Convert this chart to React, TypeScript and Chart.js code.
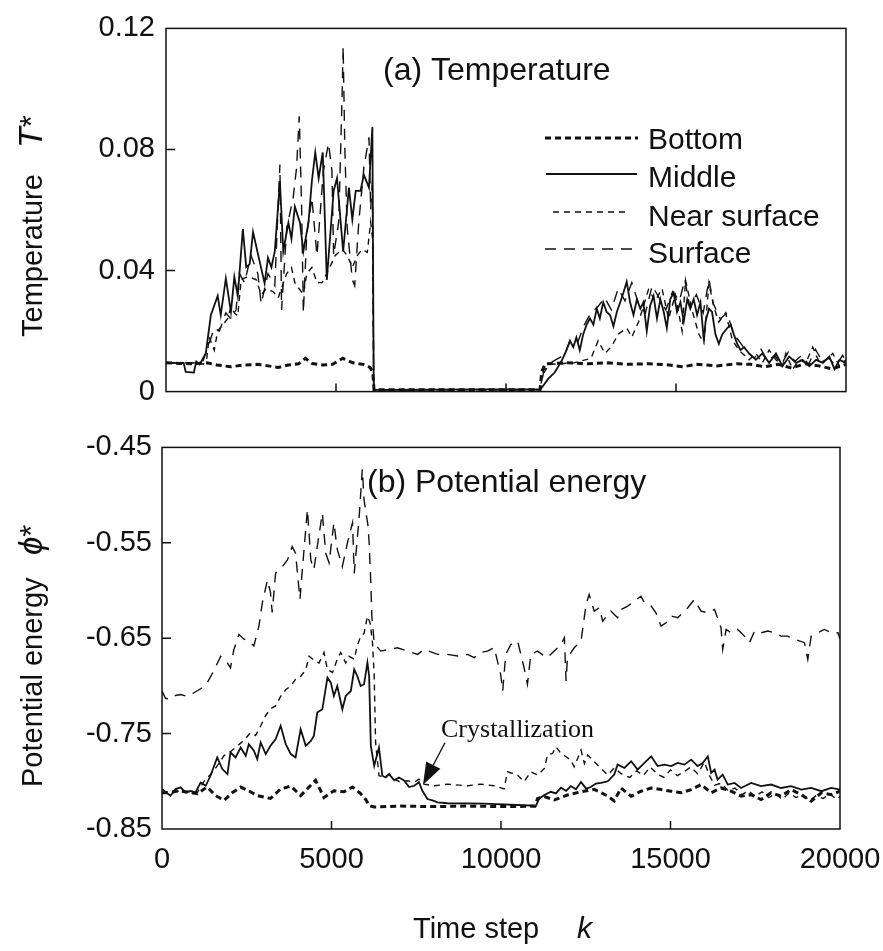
import React, { useEffect, useRef } from "react";
import { Chart, registerables } from "chart.js";

Chart.register(...registerables);

const SANS = "'Liberation Sans', Arial, Helvetica, sans-serif";
const SERIF = "'Liberation Serif', 'Times New Roman', serif";
const INK = "#111111";

// ---------- shared categories / ticks ----------
const seriesLabels = ["Bottom", "Middle", "Near surface", "Surface"];
const timeTicks = [0, 5000, 10000, 15000, 20000];
const tempTicks = [0, 0.04, 0.08, 0.12];
const tempTickLabels = ["0", "0.04", "0.08", "0.12"];
const potTicks = [-0.85, -0.75, -0.65, -0.55, -0.45];
const potTickLabels = ["-0.85", "-0.75", "-0.65", "-0.55", "-0.45"];

// ---------- (a) Temperature T* : [time step k, value] ----------
const tempBottom: [number, number][] = [
  [0, 0.0095], [400, 0.0093], [800, 0.0092], [1200, 0.0095], [1500, 0.0088], [1900, 0.0082],
  [2300, 0.0088], [2700, 0.009], [3000, 0.0085], [3300, 0.008], [3600, 0.0088], [3900, 0.0092],
  [4100, 0.011], [4300, 0.0093], [4600, 0.0088], [4900, 0.009], [5200, 0.011], [5500, 0.0095],
  [5800, 0.009], [6000, 0.008], [6080, 0.0065], [6120, 0.0006], [11000, 0.0006], [11050, 0.0065],
  [11150, 0.0092], [11800, 0.0095], [12400, 0.0092], [13000, 0.0095], [13600, 0.009], [14200, 0.0092],
  [14800, 0.0088], [15200, 0.0082], [15600, 0.009], [16200, 0.0085], [16800, 0.0092], [17200, 0.009],
  [17600, 0.0082], [18000, 0.009], [18400, 0.0078], [18800, 0.0092], [19200, 0.0085], [19600, 0.0075],
  [20000, 0.009],
];

const tempMiddle: [number, number][] = [
  [0, 0.0095], [520, 0.0095], [580, 0.0065], [820, 0.0063], [890, 0.01], [990, 0.009], [1090, 0.011],
  [1170, 0.0126], [1320, 0.0253], [1520, 0.0316], [1610, 0.0253], [1760, 0.0374], [1910, 0.0263],
  [2010, 0.0379], [2110, 0.0316], [2260, 0.0537], [2360, 0.0411], [2460, 0.0421], [2560, 0.0527],
  [2750, 0.0432], [2900, 0.0358], [3000, 0.0442], [3100, 0.0411], [3200, 0.0463], [3350, 0.0695],
  [3450, 0.0463], [3600, 0.0558], [3690, 0.0505], [3790, 0.0611], [3940, 0.0558], [4040, 0.0463],
  [4190, 0.0558], [4290, 0.0695], [4390, 0.079], [4490, 0.0705], [4610, 0.079], [4730, 0.0369],
  [4930, 0.0663], [5030, 0.0705], [5210, 0.0463], [5380, 0.0674], [5480, 0.0569], [5580, 0.0663],
  [5720, 0.0663], [5820, 0.0716], [5970, 0.0674], [6070, 0.0874], [6110, 0.0006], [11020, 0.0008],
  [11240, 0.0042], [11430, 0.0063], [11630, 0.01], [11780, 0.0137], [11880, 0.0168], [11980, 0.0147],
  [12070, 0.0179], [12170, 0.0137], [12270, 0.0189], [12370, 0.0221], [12470, 0.0242], [12570, 0.0221],
  [12670, 0.0274], [12760, 0.0242], [12860, 0.0295], [12960, 0.0263], [13060, 0.0253], [13160, 0.0216],
  [13260, 0.0263], [13360, 0.0295], [13450, 0.0326], [13550, 0.0363], [13650, 0.0295], [13750, 0.0253],
  [13850, 0.0305], [13950, 0.0274], [14040, 0.0295], [14140, 0.02], [14240, 0.0284], [14340, 0.0316],
  [14440, 0.0242], [14540, 0.0305], [14640, 0.0263], [14730, 0.021], [14830, 0.0305], [14930, 0.0326],
  [15030, 0.0263], [15130, 0.0295], [15230, 0.0232], [15330, 0.0305], [15420, 0.0274], [15520, 0.0305],
  [15620, 0.0253], [15720, 0.0295], [15820, 0.0168], [15870, 0.0232], [15970, 0.0274], [16060, 0.0263],
  [16160, 0.0189], [16260, 0.0158], [16360, 0.0189], [16510, 0.021], [16610, 0.0221], [16700, 0.0189],
  [16800, 0.0158], [16900, 0.0137], [17000, 0.0147], [17150, 0.0126], [17350, 0.0105], [17540, 0.0126],
  [17740, 0.0095], [17940, 0.0126], [18130, 0.0084], [18330, 0.0116], [18530, 0.0095], [18720, 0.0105],
  [18920, 0.0084], [19120, 0.0105], [19320, 0.0095], [19510, 0.0116], [19660, 0.0074], [19810, 0.0105],
  [20000, 0.0095],
];

const tempNear: [number, number][] = [
  [0, 0.0095], [1000, 0.0095], [1100, 0.009], [1200, 0.011], [1270, 0.018], [1420, 0.0137],
  [1520, 0.02], [1660, 0.022], [1810, 0.024], [1910, 0.028], [2010, 0.026], [2110, 0.025],
  [2210, 0.037], [2410, 0.038], [2650, 0.037], [2800, 0.032], [2950, 0.034], [3150, 0.033],
  [3300, 0.031], [3550, 0.039], [3690, 0.041], [3790, 0.036], [4040, 0.032], [4140, 0.039],
  [4290, 0.041], [4440, 0.036], [4590, 0.036], [4730, 0.039], [4980, 0.045], [5180, 0.047],
  [5330, 0.045], [5480, 0.041], [5630, 0.045], [5770, 0.047], [5920, 0.046], [6020, 0.056],
  [6080, 0.05], [6110, 0.0006], [11000, 0.0006], [11100, 0.007], [11300, 0.009], [12000, 0.0095],
  [12500, 0.011], [12710, 0.0168], [12910, 0.0126], [13110, 0.015], [13300, 0.019], [13550, 0.021],
  [13700, 0.018], [13900, 0.023], [14190, 0.0337], [14390, 0.03], [14590, 0.034], [14780, 0.024],
  [14980, 0.032], [15180, 0.02], [15280, 0.0368], [15470, 0.027], [15670, 0.019], [15820, 0.016],
  [15970, 0.0358], [16110, 0.028], [16260, 0.023], [16460, 0.026], [16660, 0.017], [16850, 0.0137],
  [17150, 0.0105], [17350, 0.0126], [17540, 0.0095], [17740, 0.0137], [17940, 0.0105], [18130, 0.0084],
  [18230, 0.0126], [18430, 0.0074], [18630, 0.0105], [18820, 0.0095], [19020, 0.0147], [19220, 0.0095],
  [19410, 0.0105], [19610, 0.0126], [19810, 0.0084], [20000, 0.0105],
];

const tempSurface: [number, number][] = [
  [0, 0.0095], [1070, 0.0095], [1270, 0.016], [1420, 0.021], [1570, 0.02], [1760, 0.026],
  [1910, 0.024], [2060, 0.027], [2160, 0.039], [2310, 0.036], [2500, 0.045], [2700, 0.039],
  [2800, 0.029], [3000, 0.039], [3200, 0.035], [3350, 0.075], [3400, 0.027], [3550, 0.054],
  [3740, 0.064], [3840, 0.074], [3920, 0.091], [3990, 0.06], [4040, 0.026], [4140, 0.052],
  [4290, 0.064], [4440, 0.045], [4630, 0.073], [4780, 0.082], [4880, 0.073], [4930, 0.045],
  [5080, 0.056], [5180, 0.098], [5210, 0.114], [5260, 0.08], [5330, 0.054], [5480, 0.037],
  [5550, 0.035], [5670, 0.056], [5820, 0.074], [5970, 0.084], [6020, 0.06], [6070, 0.07],
  [6110, 0.0006], [11000, 0.0006], [11100, 0.006], [11300, 0.0095], [11700, 0.012], [11900, 0.017],
  [12100, 0.016], [12300, 0.022], [12500, 0.026], [12700, 0.028], [12900, 0.031], [13100, 0.027],
  [13300, 0.034], [13500, 0.03], [13700, 0.036], [13900, 0.029], [14100, 0.026], [14300, 0.035],
  [14500, 0.031], [14700, 0.027], [14900, 0.033], [15100, 0.03], [15260, 0.037], [15400, 0.028],
  [15600, 0.032], [15800, 0.026], [15970, 0.037], [16100, 0.029], [16300, 0.024], [16500, 0.026],
  [16700, 0.019], [16900, 0.016], [17100, 0.013], [17300, 0.011], [17500, 0.014], [17700, 0.01],
  [17900, 0.012], [18100, 0.009], [18300, 0.013], [18500, 0.01], [18700, 0.012], [18900, 0.009],
  [19100, 0.014], [19300, 0.01], [19500, 0.011], [19700, 0.0085], [19900, 0.012], [20000, 0.01],
];

// ---------- (b) Potential energy phi* : [time step k, value] ----------
const potBottom: [number, number][] = [
  [0, -0.812], [150, -0.812], [500, -0.81], [1040, -0.813], [1330, -0.806], [1580, -0.815],
  [1830, -0.82], [2070, -0.812], [2320, -0.806], [2560, -0.81], [2810, -0.815], [3200, -0.818],
  [3500, -0.808], [3800, -0.805], [4090, -0.815], [4530, -0.799], [4780, -0.817], [5070, -0.81],
  [5370, -0.811], [5620, -0.806], [5860, -0.813], [6010, -0.819], [6110, -0.8256], [6260, -0.827],
  [7000, -0.826], [8000, -0.8265], [9000, -0.826], [10000, -0.8265], [11000, -0.8262], [11080, -0.818],
  [11280, -0.816], [11570, -0.8196], [11960, -0.8144], [12360, -0.811], [12750, -0.8084], [13150, -0.8154],
  [13340, -0.8206], [13540, -0.807], [13840, -0.8156], [14130, -0.8104], [14430, -0.807], [14720, -0.8087],
  [15020, -0.8104], [15310, -0.812], [15610, -0.8087], [15900, -0.8034], [16200, -0.812], [16490, -0.807],
  [16790, -0.8104], [17080, -0.8156], [17380, -0.814], [17670, -0.8191], [17970, -0.812], [18260, -0.8156],
  [18560, -0.8087], [18860, -0.814], [19150, -0.8209], [19450, -0.812], [19740, -0.814], [20000, -0.8104],
];

const potMiddle: [number, number][] = [
  [0, -0.8082], [250, -0.8151], [400, -0.8082], [550, -0.8064], [690, -0.8116], [840, -0.81],
  [990, -0.8116], [1140, -0.8012], [1290, -0.8047], [1430, -0.7942], [1630, -0.775], [1780, -0.7872],
  [1930, -0.7925], [2020, -0.7698], [2170, -0.775], [2320, -0.7646], [2470, -0.7733], [2560, -0.7611],
  [2710, -0.768], [2810, -0.7768], [2910, -0.7593], [3060, -0.7715], [3200, -0.7628], [3350, -0.7559],
  [3500, -0.7419], [3650, -0.7611], [3800, -0.7715], [3940, -0.775], [4090, -0.7454], [4240, -0.7628],
  [4390, -0.7576], [4480, -0.7524], [4580, -0.728], [4730, -0.7245], [4880, -0.6914], [4980, -0.6966],
  [5070, -0.7105], [5170, -0.7001], [5320, -0.7245], [5420, -0.7105], [5570, -0.7053], [5670, -0.6826],
  [5760, -0.6896], [5860, -0.7001], [5960, -0.6983], [6060, -0.6757], [6110, -0.6896], [6160, -0.7628],
  [6260, -0.7838], [6400, -0.7646], [6500, -0.7942], [6600, -0.796], [6700, -0.7925], [6850, -0.799],
  [6990, -0.796], [7140, -0.799], [7290, -0.806], [7440, -0.8047], [7580, -0.801], [7680, -0.81],
  [7830, -0.8186], [7980, -0.82], [8130, -0.822], [8420, -0.823], [9500, -0.8235], [11030, -0.8256],
  [11130, -0.818], [11280, -0.8144], [11470, -0.811], [11620, -0.8127], [11770, -0.8067], [11920, -0.81],
  [12060, -0.805], [12210, -0.8084], [12360, -0.8007], [12510, -0.8077], [12650, -0.806], [12800, -0.8024],
  [12950, -0.8017], [13150, -0.8], [13340, -0.793], [13440, -0.7825], [13640, -0.786], [13840, -0.779],
  [14030, -0.7878], [14230, -0.7808], [14430, -0.7738], [14620, -0.784], [14820, -0.7825], [15020, -0.784],
  [15210, -0.7808], [15410, -0.7825], [15610, -0.7773], [15800, -0.784], [15950, -0.7808], [16100, -0.7738],
  [16200, -0.7912], [16300, -0.7878], [16390, -0.7982], [16540, -0.793], [16690, -0.8034], [16890, -0.8017],
  [17080, -0.807], [17380, -0.8017], [17670, -0.805], [17970, -0.8034], [18260, -0.807], [18560, -0.805],
  [18860, -0.8087], [19150, -0.807], [19450, -0.8104], [19740, -0.807], [20000, -0.8087],
];

const potNear: [number, number][] = [
  [0, -0.812], [600, -0.81], [1040, -0.812], [1240, -0.8], [1530, -0.789], [1830, -0.773],
  [2020, -0.769], [2220, -0.763], [2420, -0.757], [2610, -0.749], [2760, -0.752], [2910, -0.742],
  [3060, -0.731], [3200, -0.724], [3350, -0.721], [3500, -0.711], [3650, -0.704], [3800, -0.7],
  [3940, -0.693], [4090, -0.69], [4240, -0.683], [4340, -0.669], [4480, -0.673], [4630, -0.676],
  [4780, -0.665], [4880, -0.683], [5030, -0.686], [5170, -0.672], [5270, -0.665], [5420, -0.676],
  [5520, -0.669], [5670, -0.672], [5760, -0.658], [5860, -0.648], [5960, -0.645], [6060, -0.627],
  [6140, -0.634], [6210, -0.655], [6260, -0.69], [6300, -0.759], [6400, -0.794], [6550, -0.796],
  [6700, -0.7925], [6850, -0.7977], [7040, -0.801], [7240, -0.7994], [7440, -0.801], [7580, -0.7977],
  [7730, -0.803], [8030, -0.8047], [8420, -0.803], [9010, -0.8047], [9400, -0.803], [9800, -0.8047],
  [10090, -0.808], [10190, -0.79], [10490, -0.7935], [10680, -0.8004], [10880, -0.79], [11080, -0.7935],
  [11280, -0.7865], [11370, -0.7725], [11520, -0.7708], [11620, -0.7638], [11770, -0.7708], [11920, -0.7743],
  [12060, -0.7778], [12160, -0.7848], [12360, -0.7673], [12460, -0.7813], [12560, -0.7725], [12750, -0.7795],
  [12950, -0.7865], [13150, -0.7935], [13340, -0.786], [13540, -0.792], [13800, -0.796], [14000, -0.789],
  [14200, -0.794], [14400, -0.785], [14600, -0.792], [14800, -0.796], [15000, -0.788], [15200, -0.794],
  [15400, -0.79], [15600, -0.785], [15800, -0.792], [16000, -0.78], [16150, -0.794], [16300, -0.804],
  [16500, -0.802], [16700, -0.81], [16900, -0.807], [17100, -0.814], [17300, -0.81], [17500, -0.816],
  [17700, -0.811], [17900, -0.817], [18100, -0.813], [18300, -0.819], [18500, -0.812], [18700, -0.817],
  [18900, -0.814], [19100, -0.82], [19300, -0.815], [19500, -0.818], [19700, -0.813], [19900, -0.819],
  [20000, -0.816],
];

const potSurface: [number, number][] = [
  [0, -0.705], [100, -0.713], [250, -0.714], [400, -0.71], [550, -0.709], [750, -0.711],
  [900, -0.708], [1140, -0.703], [1330, -0.697], [1530, -0.684], [1730, -0.669], [1930, -0.676],
  [2020, -0.681], [2120, -0.662], [2270, -0.646], [2420, -0.651], [2560, -0.653], [2710, -0.658],
  [2860, -0.637], [2960, -0.613], [3110, -0.589], [3200, -0.602], [3250, -0.623], [3350, -0.582],
  [3450, -0.578], [3550, -0.575], [3700, -0.568], [3840, -0.554], [3940, -0.561], [4070, -0.609],
  [4140, -0.578], [4290, -0.515], [4390, -0.568], [4480, -0.578], [4580, -0.554], [4730, -0.519],
  [4830, -0.561], [4930, -0.571], [5070, -0.529], [5170, -0.557], [5320, -0.575], [5470, -0.55],
  [5620, -0.529], [5670, -0.582], [5810, -0.526], [5910, -0.473], [5960, -0.505], [6080, -0.533],
  [6110, -0.55], [6160, -0.592], [6190, -0.627], [6260, -0.655], [6450, -0.6635], [6940, -0.66],
  [7540, -0.667], [7730, -0.6617], [8130, -0.667], [8420, -0.667], [8720, -0.6687], [9010, -0.667],
  [9210, -0.6704], [9400, -0.665], [9600, -0.6635], [9800, -0.66], [9990, -0.6879], [10050, -0.7053],
  [10140, -0.667], [10290, -0.6565], [10490, -0.653], [10680, -0.6809], [10780, -0.6983], [10880, -0.667],
  [11080, -0.6635], [11280, -0.6687], [11370, -0.6704], [11770, -0.6565], [11870, -0.6495], [11920, -0.6948],
  [11960, -0.6704], [12160, -0.66], [12360, -0.653], [12510, -0.6147], [12600, -0.6042], [12750, -0.6216],
  [12900, -0.6181], [13000, -0.6321], [13240, -0.6216], [13440, -0.6286], [13540, -0.6199], [13740, -0.6164],
  [13930, -0.6112], [14130, -0.606], [14230, -0.6129], [14430, -0.6164], [14570, -0.6234], [14720, -0.6373],
  [14870, -0.6338], [15020, -0.6268], [15210, -0.6286], [15510, -0.6181], [15700, -0.6094], [15900, -0.6216],
  [16100, -0.6234], [16300, -0.6199], [16490, -0.639], [16540, -0.6617], [16640, -0.6408], [16790, -0.6443],
  [16980, -0.6408], [17180, -0.6478], [17330, -0.6547], [17480, -0.6425], [17670, -0.6443], [17870, -0.6425],
  [18070, -0.6443], [18260, -0.6478], [18460, -0.6478], [18660, -0.6512], [18950, -0.6547], [19050, -0.6722],
  [19150, -0.6478], [19350, -0.6443], [19540, -0.6408], [19740, -0.6443], [19940, -0.6443], [20000, -0.651],
];

// ---------- styles ----------
const lineStyles = [
  { borderWidth: 3, borderDash: [6, 4] },
  { borderWidth: 1.8, borderDash: [] as number[] },
  { borderWidth: 1.4, borderDash: [6, 5] },
  { borderWidth: 1.4, borderDash: [11, 8] },
];

function makeDatasets(series: [number, number][][]) {
  return series.map((s, i) => ({
    label: seriesLabels[i],
    data: s.map(([x, y]) => ({ x, y })),
    borderColor: INK,
    backgroundColor: INK,
    borderWidth: lineStyles[i].borderWidth,
    borderDash: lineStyles[i].borderDash,
    pointRadius: 0,
    tension: 0,
    fill: false,
  }));
}

function labelFor(ticks: number[], labels: string[], v: number) {
  const i = ticks.findIndex((t) => Math.abs(t - v) < 1e-9);
  return i >= 0 ? labels[i] : "";
}

function drawPieces(
  ctx: CanvasRenderingContext2D,
  pieces: { t: string; f: string; at?: number }[],
  x0: number,
  y0: number
) {
  let cx = x0;
  for (const p of pieces) {
    ctx.font = p.f;
    if (p.at !== undefined) cx = x0 + p.at;
    ctx.fillText(p.t, cx, y0);
    cx += ctx.measureText(p.t).width;
  }
}

function framePlugin(yTicks: number[], extra: (chart: any, ctx: CanvasRenderingContext2D) => void) {
  return {
    id: "frameAndTicks",
    afterDraw(chart: any) {
      const { ctx, chartArea: a, scales } = chart;
      ctx.save();
      ctx.strokeStyle = INK;
      ctx.fillStyle = INK;
      ctx.lineWidth = 1.5;
      ctx.setLineDash([]);
      ctx.strokeRect(a.left, a.top, a.right - a.left, a.bottom - a.top);
      ctx.beginPath();
      for (const v of yTicks.slice(1, -1)) {
        const y = scales.y.getPixelForValue(v);
        ctx.moveTo(a.left, y);
        ctx.lineTo(a.left + 9, y);
      }
      for (const v of timeTicks.slice(1, -1)) {
        const x = scales.x.getPixelForValue(v);
        ctx.moveTo(x, a.bottom);
        ctx.lineTo(x, a.bottom - 8);
      }
      ctx.stroke();
      extra(chart, ctx);
      ctx.restore();
    },
  };
}

const legendLineY = [138, 174, 212, 249];
const legendTextY = [149, 187, 226, 263];
const legendLineX0 = [545, 546, 553, 545];
const legendLineX1 = [638, 637, 630, 635];

function drawTopExtras(chart: any, ctx: CanvasRenderingContext2D) {
  ctx.fillStyle = INK;
  ctx.textAlign = "left";
  ctx.textBaseline = "alphabetic";
  // panel title
  ctx.font = `32px ${SANS}`;
  ctx.fillText("(a) Temperature", 383, 80);
  // legend
  chart.data.datasets.forEach((ds: any, i: number) => {
    ctx.save();
    ctx.lineWidth = ds.borderWidth;
    ctx.setLineDash(ds.borderDash || []);
    ctx.strokeStyle = INK;
    ctx.beginPath();
    ctx.moveTo(legendLineX0[i], legendLineY[i]);
    ctx.lineTo(legendLineX1[i], legendLineY[i]);
    ctx.stroke();
    ctx.restore();
    ctx.font = `30px ${SANS}`;
    ctx.fillText(ds.label, 648, legendTextY[i]);
  });
  // y-axis title
  ctx.save();
  ctx.translate(42, 337);
  ctx.rotate(-Math.PI / 2);
  drawPieces(
    ctx,
    [
      { t: "Temperature", f: `29px ${SANS}` },
      { t: "T", f: `italic 34px ${SANS}`, at: 189 },
      { t: "*", f: `31px ${SANS}` },
    ],
    0,
    0
  );
  ctx.restore();
}

function drawBottomExtras(chart: any, ctx: CanvasRenderingContext2D) {
  const { scales } = chart;
  ctx.fillStyle = INK;
  ctx.textAlign = "left";
  ctx.textBaseline = "alphabetic";
  ctx.font = `32px ${SANS}`;
  ctx.fillText("(b) Potential energy", 367, 72);

  // y-axis title
  ctx.save();
  ctx.translate(42, 367);
  ctx.rotate(-Math.PI / 2);
  drawPieces(
    ctx,
    [
      { t: "Potential energy", f: `29px ${SANS}` },
      { t: "\u03D5", f: `italic 33px ${SANS}`, at: 232 },
      { t: "*", f: `31px ${SANS}` },
    ],
    0,
    0
  );
  ctx.restore();

  // x-axis title
  drawPieces(
    ctx,
    [
      { t: "Time step", f: `29px ${SANS}` },
      { t: "k", f: `italic 30px ${SANS}`, at: 164 },
    ],
    413,
    518
  );

  // crystallization annotation
  const tx = scales.x.getPixelForValue(7700);
  const ty = scales.y.getPixelForValue(-0.8035);
  ctx.font = `26px ${SERIF}`;
  ctx.fillText("Crystallization", tx + 18, ty - 48);
  const sx = tx + 22;
  const sy = ty - 42;
  const ang = Math.atan2(ty - sy, tx - sx);
  const hl = 22;
  const hw = 8;
  const bx = tx - hl * Math.cos(ang);
  const by = ty - hl * Math.sin(ang);
  ctx.lineWidth = 1.2;
  ctx.setLineDash([]);
  ctx.beginPath();
  ctx.moveTo(sx, sy);
  ctx.lineTo(bx, by);
  ctx.stroke();
  ctx.beginPath();
  ctx.moveTo(tx, ty);
  ctx.lineTo(bx + hw * Math.sin(ang), by - hw * Math.cos(ang));
  ctx.lineTo(bx - hw * Math.sin(ang), by + hw * Math.cos(ang));
  ctx.closePath();
  ctx.fill();
}

export default function App() {
  const topRef = useRef<HTMLCanvasElement | null>(null);
  const botRef = useRef<HTMLCanvasElement | null>(null);

  useEffect(() => {
    const tickFont = { family: SANS, size: 29 };

    const top = new Chart(topRef.current as HTMLCanvasElement, {
      type: "line",
      data: { datasets: makeDatasets([tempBottom, tempMiddle, tempNear, tempSurface]) as any },
      options: {
        animation: false,
        responsive: false,
        maintainAspectRatio: false,
        events: [],
        layout: { padding: { top: 27, right: 37, bottom: 13, left: 0 } },
        plugins: { legend: { display: false }, tooltip: { enabled: false } },
        scales: {
          x: {
            type: "linear",
            min: 0,
            max: 20000,
            grid: { display: false, drawTicks: false },
            border: { display: false },
            ticks: { display: false },
            afterBuildTicks: (s: any) => {
              s.ticks = timeTicks.map((v) => ({ value: v }));
            },
            afterFit: (s: any) => {
              s.height = 0;
              s.paddingLeft = 0;
              s.paddingRight = 0;
            },
          },
          y: {
            type: "linear",
            min: 0,
            max: 0.12,
            grid: { display: false, drawTicks: false },
            border: { display: false },
            ticks: {
              color: INK,
              font: tickFont,
              padding: 11,
              callback: (v: any) => labelFor(tempTicks, tempTickLabels, Number(v)),
            },
            afterBuildTicks: (s: any) => {
              s.ticks = tempTicks.map((v) => ({ value: v }));
            },
            afterFit: (s: any) => {
              s.width = 166;
            },
          },
        },
      } as any,
      plugins: [framePlugin(tempTicks, drawTopExtras)],
    });

    const bot = new Chart(botRef.current as HTMLCanvasElement, {
      type: "line",
      data: { datasets: makeDatasets([potBottom, potMiddle, potNear, potSurface]) as any },
      options: {
        animation: false,
        responsive: false,
        maintainAspectRatio: false,
        events: [],
        layout: { padding: { top: 26, right: 43, bottom: 0, left: 0 } },
        plugins: { legend: { display: false }, tooltip: { enabled: false } },
        scales: {
          x: {
            type: "linear",
            min: 0,
            max: 20000,
            grid: { display: false, drawTicks: false },
            border: { display: false },
            ticks: {
              color: INK,
              font: tickFont,
              padding: 14,
              maxRotation: 0,
              autoSkip: false,
              callback: (v: any) => String(v),
            },
            afterBuildTicks: (s: any) => {
              s.ticks = timeTicks.map((v) => ({ value: v }));
            },
            afterFit: (s: any) => {
              s.height = 122;
              s.paddingLeft = 0;
              s.paddingRight = 0;
            },
          },
          y: {
            type: "linear",
            min: -0.85,
            max: -0.45,
            grid: { display: false, drawTicks: false },
            border: { display: false },
            ticks: {
              color: INK,
              font: tickFont,
              padding: 10,
              callback: (v: any) => labelFor(potTicks, potTickLabels, Number(v)),
            },
            afterBuildTicks: (s: any) => {
              s.ticks = potTicks.map((v) => ({ value: v }));
            },
            afterFit: (s: any) => {
              s.width = 162;
            },
          },
        },
      } as any,
      plugins: [framePlugin(potTicks, drawBottomExtras)],
    });

    return () => {
      top.destroy();
      bot.destroy();
    };
  }, []);

  return (
    <div style={{ position: "absolute", left: 0, top: 0, width: 883, height: 951, background: "#fff" }}>
      <canvas
        ref={topRef}
        width={883}
        height={420}
        style={{ position: "absolute", left: 0, top: 0, width: 883, height: 420 }}
      />
      <canvas
        ref={botRef}
        width={883}
        height={531}
        style={{ position: "absolute", left: 0, top: 420, width: 883, height: 531 }}
      />
    </div>
  );
}
